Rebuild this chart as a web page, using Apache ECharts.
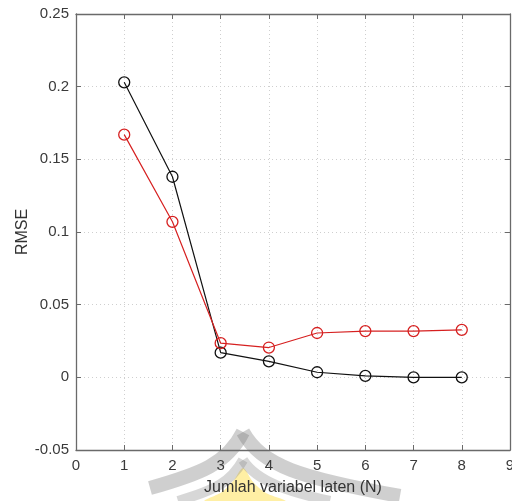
<!DOCTYPE html>
<html><head><meta charset="utf-8">
<script src="https://cdn.jsdelivr.net/npm/echarts@6/dist/echarts.min.js"></script>
<style>html,body{margin:0;padding:0;background:#fff}#c{width:512px;height:501px}</style>
</head><body><div id="c"></div>
<script>
var nValues = [1, 2, 3, 4, 5, 6, 7, 8];
var blackSeries = [0.203, 0.138, 0.017, 0.011, 0.0035, 0.001, 0.0, 0.0];
var redSeries = [0.167, 0.107, 0.0235, 0.0205, 0.0305, 0.0318, 0.0318, 0.0327];
var xTicks = [0, 1, 2, 3, 4, 5, 6, 7, 8, 9];
var yTicks = [-0.05, 0, 0.05, 0.1, 0.15, 0.2, 0.25];

var font = 'Liberation Sans, Arial, sans-serif';
var axisCol = '#6a6a6a';
function pairs(xs, ys){ return xs.map(function(x,i){return [x, ys[i]];}); }
function fmtY(v){ var r = Math.round(v*1000)/1000; return String(r); }

var grayA = 'rgba(130,130,130,0.38)';
var grayB = 'rgba(130,130,130,0.32)';
function curve(x1,y1,cx1,cy1,cx2,cy2,x2,y2,color,w){
  return {type:'bezierCurve', z:-10, silent:true,
    shape:{x1:x1,y1:y1,cpx1:cx1,cpy1:cy1,cpx2:cx2,cpy2:cy2,x2:x2,y2:y2},
    style:{fill:null, stroke:color, lineWidth:w}};
}

var chart = echarts.init(document.getElementById('c'), null, {renderer:'canvas'});
var baseX = {type:'value', min:xTicks[0], max:xTicks[xTicks.length-1], interval:1, axisLine:{show:true,onZero:false,lineStyle:{color:axisCol,width:1.3}},
  axisTick:{inside:true,length:5,lineStyle:{color:axisCol}}};
var baseY = {type:'value', min:yTicks[0], max:yTicks[yTicks.length-1], interval:0.05, axisLine:{show:true,onZero:false,lineStyle:{color:axisCol,width:1.3}},
  axisTick:{inside:true,length:5,lineStyle:{color:axisCol}}};
chart.setOption({
  animation:false,
  grid:{left:76, right:2, top:14, bottom:51, outerBoundsMode:'none', containLabel:false},
  graphic:[
    {type:'polygon', z:-10, silent:true,
      shape:{points:[[205,501],[222,492],[234,480],[243,468],[253,482],[266,493],[285,501]], smooth:0.3},
      style:{fill:'rgba(255,225,90,0.55)'}},
    curve(150,488, 200,474, 227,464, 243,432, grayA, 14),
    curve(243,432, 262,466, 300,478, 400,496, grayA, 14),
    curve(178,501, 215,490, 231,482, 243,460, grayB, 10),
    curve(243,460, 257,482, 290,492, 330,501, grayB, 10)
  ],
  xAxis:[
    Object.assign({}, baseX, {position:'bottom', name:'Jumlah variabel laten (N)', nameLocation:'middle', nameGap:30,
      nameTextStyle:{fontFamily:font, fontSize:16, color:'#333'},
      axisLabel:{fontFamily:font, fontSize:15, color:'#3a3a3a', margin:8},
      splitLine:{show:true, lineStyle:{type:[1,3], color:'#cfcfcf'}}}),
    Object.assign({}, baseX, {position:'top', axisLabel:{show:false}, splitLine:{show:false}})
  ],
  yAxis:[
    Object.assign({}, baseY, {position:'left', name:'RMSE', nameLocation:'middle', nameGap:45, nameMoveOverlap:false,
      nameTextStyle:{fontFamily:font, fontSize:16, color:'#333'},
      axisLabel:{fontFamily:font, fontSize:15, color:'#3a3a3a', margin:7, formatter:fmtY},
      splitLine:{show:true, lineStyle:{type:[1,3], color:'#cfcfcf'}}}),
    Object.assign({}, baseY, {position:'right', axisLabel:{show:false}, splitLine:{show:false}})
  ],
  series:[
    {type:'line', data:pairs(nValues, blackSeries), symbol:'circle', symbolSize:11, showAllSymbol:true,
      lineStyle:{color:'#111', width:1.2}, itemStyle:{color:'rgba(255,255,255,0)', borderColor:'#111', borderWidth:1.3}},
    {type:'line', data:pairs(nValues, redSeries), symbol:'circle', symbolSize:11, showAllSymbol:true,
      lineStyle:{color:'#d62020', width:1.2}, itemStyle:{color:'rgba(255,255,255,0)', borderColor:'#d62020', borderWidth:1.3}}
  ]
});
</script></body></html>
